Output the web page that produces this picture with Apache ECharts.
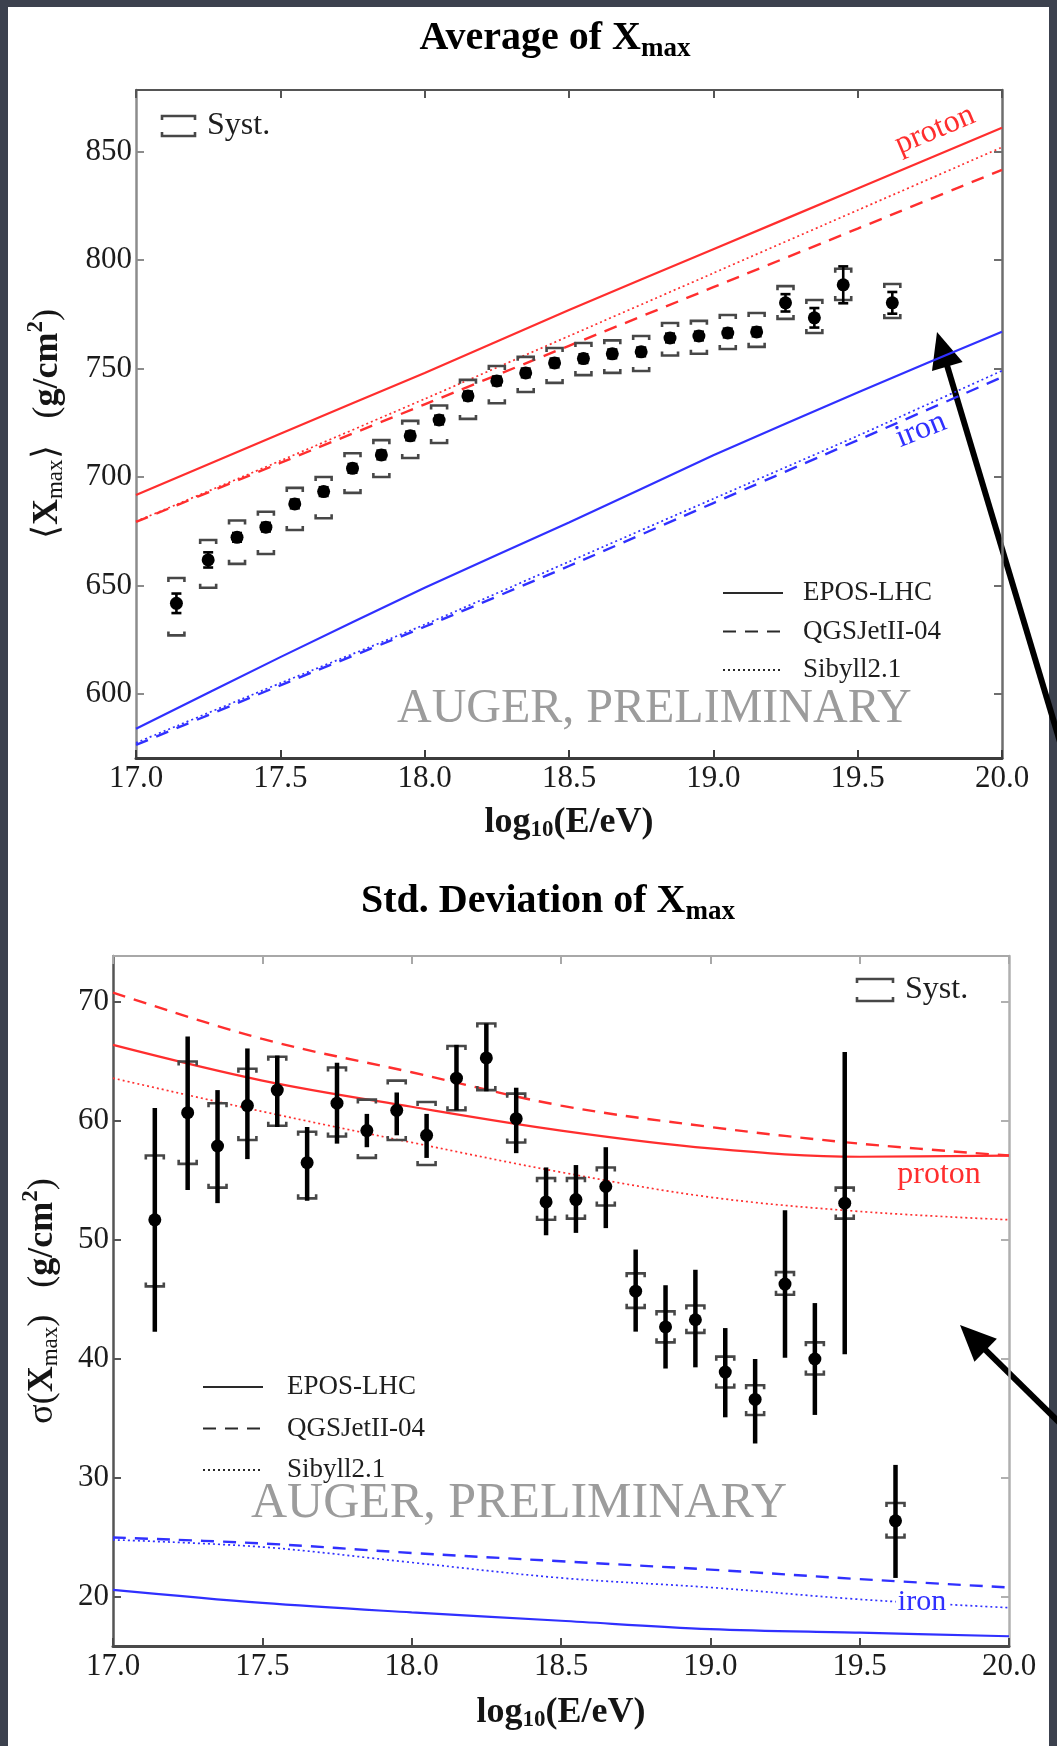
<!DOCTYPE html>
<html>
<head>
<meta charset="utf-8">
<script src="https://cdn.jsdelivr.net/npm/echarts@6/dist/echarts.min.js"></script>
<style>
  html, body { margin: 0; padding: 0; background: #3c414e; }
  #main { width: 1057px; height: 1746px; }
</style>
</head>
<body>
<div id="main"></div>
<script>
// ---- measured data: energy bins (log10 E/eV) ----
const energy = [17.14, 17.25, 17.35, 17.45, 17.55, 17.65, 17.75, 17.85, 17.95, 18.05,
                18.15, 18.25, 18.35, 18.45, 18.55, 18.65, 18.75, 18.85, 18.95, 19.05,
                19.15, 19.25, 19.35, 19.45, 19.62];

// <Xmax> in g/cm^2, statistical error (symmetric), systematic band edges
const avgXmax   = [641.8, 661.8, 672.2, 676.9, 687.6, 693.3, 704.0, 710.2, 719.0, 726.3,
                   737.4, 744.3, 748.0, 752.6, 754.6, 756.8, 757.7, 764.1, 765.0, 766.4,
                   766.9, 780.3, 773.4, 788.6, 780.3];
const avgStat   = [4.5, 3.5, 2, 2, 2, 2, 2, 2, 2, 2,
                   2, 2, 2, 2, 2, 2, 2, 2, 2, 2,
                   2, 4, 4.5, 8.5, 5];
const avgSystHi = [653.5, 671.0, 680.0, 684.0, 695.0, 700.0, 711.0, 717.0, 725.9, 733.0,
                   744.8, 751.2, 755.4, 759.5, 761.8, 763.0, 765.0, 771.0, 772.0, 774.7,
                   775.6, 788.0, 781.6, 796.0, 789.0];
const avgSystLo = [627.0, 649.0, 660.0, 664.5, 675.6, 681.0, 692.7, 700.0, 708.8, 715.7,
                   726.8, 734.0, 739.2, 743.4, 747.0, 748.0, 748.9, 756.0, 756.8, 759.0,
                   760.0, 772.9, 766.4, 781.6, 773.3];

// sigma(Xmax) in g/cm^2 with statistical and systematic limits
const sigXmax   = [51.7, 60.7, 57.9, 61.3, 62.6, 56.5, 61.5, 59.2, 60.9, 58.8,
                   63.6, 65.3, 60.2, 53.2, 53.4, 54.5, 45.7, 42.7, 43.3, 38.9,
                   36.6, 46.3, 40.0, 53.1, 26.4];
const sigStatHi = [61.1, 67.1, 62.6, 66.1, 65.5, 59.5, 64.9, 60.6, 62.4, 60.6,
                   66.4, 68.2, 62.8, 56.1, 56.3, 57.8, 49.2, 46.2, 47.5, 42.6,
                   40.0, 52.5, 44.7, 65.8, 31.1];
const sigStatLo = [42.3, 54.2, 53.1, 56.8, 59.5, 53.3, 58.1, 57.8, 58.8, 56.9,
                   60.9, 62.5, 57.3, 50.4, 50.6, 51.0, 42.3, 39.2, 39.3, 35.1,
                   32.9, 40.1, 35.3, 40.4, 21.6];
const sigSystHi = [57.1, 65.0, 61.5, 64.4, 65.4, 59.1, 64.5, 61.8, 63.4, 61.6,
                   66.3, 68.2, 62.3, 55.2, 55.2, 56.1, 47.2, 44.0, 44.5, 40.2,
                   37.8, 47.3, 41.4, 54.4, 27.9];
const sigSystLo = [46.1, 56.4, 54.4, 58.4, 59.6, 53.5, 58.7, 56.9, 58.4, 56.3,
                   60.9, 62.6, 58.2, 51.7, 51.8, 52.9, 44.3, 41.4, 42.2, 37.6,
                   35.3, 45.4, 38.7, 51.8, 25.0];

// ---- hadronic interaction model predictions ----
const modelEnergy = [17.0, 17.5, 18.0, 18.5, 19.0, 19.5, 20.0];
const modelNames = ['EPOS-LHC', 'QGSJetII-04', 'Sibyll2.1'];

const avgProton = {
  'EPOS-LHC':    [691.7, 720.0, 748.0, 777.0, 805.0, 833.0, 861.0],
  'QGSJetII-04': [679.3, 706.5, 733.5, 760.5, 787.5, 814.5, 841.6],
  'Sibyll2.1':   [679.5, 707.5, 736.0, 765.0, 794.0, 823.0, 852.0]
};
const avgIron = {
  'EPOS-LHC':    [584.0, 617.0, 649.0, 679.0, 710.0, 739.0, 767.0],
  'QGSJetII-04': [576.5, 604.0, 631.0, 659.0, 688.0, 717.0, 746.0],
  'Sibyll2.1':   [577.5, 605.0, 632.0, 661.0, 690.0, 719.0, 749.0]
};
const sigProton = {
  'EPOS-LHC':    [66.4, 63.4, 61.2, 59.2, 57.7, 57.0, 57.1],
  'QGSJetII-04': [70.8, 66.9, 64.1, 61.3, 59.5, 58.1, 57.1],
  'Sibyll2.1':   [63.6, 60.8, 58.2, 55.7, 53.6, 52.4, 51.7]
};
const sigIron = {
  'EPOS-LHC':    [20.6, 19.5, 18.7, 18.0, 17.3, 17.0, 16.7],
  'QGSJetII-04': [25.0, 24.5, 23.7, 23.0, 22.3, 21.5, 20.8],
  'Sibyll2.1':   [24.8, 24.2, 22.9, 21.6, 20.8, 19.8, 19.1]
};

// ---- axis ticks ----
const xTicks = [17.0, 17.5, 18.0, 18.5, 19.0, 19.5, 20.0];
const avgTicks = [600, 650, 700, 750, 800, 850];
const sigTicks = [20, 30, 40, 50, 60, 70];

// ---------------------------------------------------------------
const serif = '"Liberation Serif", "Times New Roman", serif';
const RED = '#ff2e2e';
const BLUE = '#3030ff';
const INK = '#151515';

const lineStyles = {
  'EPOS-LHC':    { type: 'solid', width: 2.2 },
  'QGSJetII-04': { type: [13, 9], width: 2.4 },
  'Sibyll2.1':   { type: [2, 3], width: 1.7 }
};

function modelSeries(name, values, color, gi, smooth) {
  return {
    type: 'line', name: name, xAxisIndex: gi * 2, yAxisIndex: gi * 2,
    data: modelEnergy.map((e, i) => [e, values[i]]),
    symbol: 'none', smooth: smooth, silent: true, z: 2,
    lineStyle: Object.assign({ color: color }, lineStyles[name]),
    itemStyle: { color: color }
  };
}

function bracketRenderer(halfW, leg, width) {
  return function (params, api) {
    const x = api.value(0);
    const lo = api.coord([x, api.value(1)]);
    const hi = api.coord([x, api.value(2)]);
    const st = { stroke: '#474747', lineWidth: width, fill: null };
    return {
      type: 'group',
      children: [
        { type: 'polyline', shape: { points: [[hi[0] - halfW, hi[1] + leg], [hi[0] - halfW, hi[1]], [hi[0] + halfW, hi[1]], [hi[0] + halfW, hi[1] + leg]] }, style: st },
        { type: 'polyline', shape: { points: [[lo[0] - halfW, lo[1] - leg], [lo[0] - halfW, lo[1]], [lo[0] + halfW, lo[1]], [lo[0] + halfW, lo[1] - leg]] }, style: st }
      ]
    };
  };
}

function statRenderer(cap, width) {
  return function (params, api) {
    const x = api.value(0);
    const lo = api.coord([x, api.value(1)]);
    const hi = api.coord([x, api.value(2)]);
    const st = { stroke: '#000', lineWidth: width };
    const kids = [{ type: 'line', shape: { x1: hi[0], y1: hi[1], x2: lo[0], y2: lo[1] }, style: st }];
    if (cap > 0) {
      kids.push({ type: 'line', shape: { x1: hi[0] - cap, y1: hi[1], x2: hi[0] + cap, y2: hi[1] }, style: st });
      kids.push({ type: 'line', shape: { x1: lo[0] - cap, y1: lo[1], x2: lo[0] + cap, y2: lo[1] }, style: st });
    }
    return { type: 'group', children: kids };
  };
}

const tickFont = { fontFamily: serif, fontSize: 31, color: '#1c1c1c' };

const nameRich = {
  n: { fontFamily: serif, fontSize: 36, color: INK },
  b: { fontFamily: serif, fontSize: 36, fontWeight: 'bold', color: INK },
  s: { fontFamily: serif, fontSize: 23, color: INK, padding: [16, 0, 0, 0] },
  sb: { fontFamily: serif, fontSize: 23, fontWeight: 'bold', color: INK, padding: [16, 0, 0, 0] },
  p: { fontFamily: serif, fontSize: 23, fontWeight: 'bold', color: INK, padding: [0, 0, 22, 0] }
};
const xName = '{b|log}{sb|10}{b|(E/eV)}';

function xAxes(gi, gapName, colBottom, colTop) {
  return [
    {
      gridIndex: gi, type: 'value', min: 17, max: 20, interval: 0.5, position: 'bottom',
      axisLine: { show: true, onZero: false, lineStyle: { color: colBottom, width: 3 } },
      axisTick: { show: true, inside: true, length: 8, lineStyle: { color: colBottom, width: 2 } },
      axisLabel: Object.assign({ margin: 5, formatter: v => v.toFixed(1) }, tickFont),
      splitLine: { show: false },
      name: xName, nameLocation: 'middle', nameGap: gapName,
      nameTextStyle: { rich: nameRich }
    },
    {
      gridIndex: gi, type: 'value', min: 17, max: 20, interval: 0.5, position: 'top',
      axisLine: { show: true, onZero: false, lineStyle: { color: colTop, width: 2 } },
      axisTick: { show: true, inside: true, length: 8, lineStyle: { color: colTop, width: 2 } },
      axisLabel: { show: false }, splitLine: { show: false }
    }
  ];
}

function yAxes(gi, min, max, ticks, name, gapName, colLeft, colRight) {
  return [
    {
      gridIndex: gi, type: 'value', min: min, max: max, position: 'left',
      axisLine: { show: true, onZero: false, lineStyle: { color: colLeft, width: 2.5 } },
      axisTick: { show: true, inside: true, length: 8, customValues: ticks, lineStyle: { color: colLeft, width: 2 } },
      axisLabel: Object.assign({ margin: 4, customValues: ticks }, tickFont),
      splitLine: { show: false },
      name: name, nameLocation: 'middle', nameRotate: 90, nameGap: gapName,
      nameTextStyle: { rich: nameRich }
    },
    {
      gridIndex: gi, type: 'value', min: min, max: max, position: 'right',
      axisLine: { show: true, onZero: false, lineStyle: { color: colRight, width: 2.5 } },
      axisTick: { show: true, inside: true, length: 8, customValues: ticks, lineStyle: { color: colRight, width: 2 } },
      axisLabel: { show: false }, splitLine: { show: false }
    }
  ];
}

const series = [];
modelNames.forEach(n => {
  series.push(modelSeries(n, avgProton[n], RED, 0, 0.2));
  series.push(modelSeries(n, avgIron[n], BLUE, 0, 0.2));
  series.push(modelSeries(n, sigProton[n], RED, 1, 0.35));
  series.push(modelSeries(n, sigIron[n], BLUE, 1, 0.35));
});

// average panel: systematic brackets, statistical bars, points
series.push({
  type: 'custom', name: 'Syst.', xAxisIndex: 0, yAxisIndex: 0, silent: true, z: 3,
  encode: { x: 0, y: [1, 2] },
  data: energy.map((e, i) => [e, avgSystLo[i], avgSystHi[i]]),
  renderItem: bracketRenderer(8, 4, 2.6)
});
series.push({
  type: 'custom', name: 'stat', xAxisIndex: 0, yAxisIndex: 0, silent: true, z: 4,
  encode: { x: 0, y: [1, 2] },
  data: energy.map((e, i) => [e, avgXmax[i] - avgStat[i], avgXmax[i] + avgStat[i]]),
  renderItem: statRenderer(5, 2.6)
});
series.push({
  type: 'scatter', name: 'Auger', xAxisIndex: 0, yAxisIndex: 0, silent: true, z: 5,
  symbol: 'circle', symbolSize: 13, itemStyle: { color: '#000', opacity: 1 },
  data: energy.map((e, i) => [e, avgXmax[i]])
});

// sigma panel
series.push({
  type: 'custom', name: 'Syst.', xAxisIndex: 2, yAxisIndex: 2, silent: true, z: 3,
  encode: { x: 0, y: [1, 2] },
  data: energy.map((e, i) => [e, sigSystLo[i], sigSystHi[i]]),
  renderItem: bracketRenderer(9, 4, 2.6)
});
series.push({
  type: 'custom', name: 'stat', xAxisIndex: 2, yAxisIndex: 2, silent: true, z: 4,
  encode: { x: 0, y: [1, 2] },
  data: energy.map((e, i) => [e, sigStatLo[i], sigStatHi[i]]),
  renderItem: statRenderer(0, 4.5)
});
series.push({
  type: 'scatter', name: 'Auger', xAxisIndex: 2, yAxisIndex: 2, silent: true, z: 5,
  symbol: 'circle', symbolSize: 13, itemStyle: { color: '#000', opacity: 1 },
  data: energy.map((e, i) => [e, sigXmax[i]])
});

function legendBlock(left, top, gap, pad) {
  return {
    data: modelNames, orient: 'vertical', left: left, top: top, padding: 0,
    itemWidth: 60, itemHeight: 12, itemGap: gap, selectedMode: false,
    lineStyle: { color: '#2a2a2a' },
    itemStyle: { opacity: 0 },
    formatter: n => '{pad| }' + n,
    textStyle: { fontFamily: serif, fontSize: 27, color: '#1e1e1e', lineHeight: 30, rich: { pad: { width: pad } } }
  };
}

function systKey(x, yTop, yBot, w, textX) {
  const st = { stroke: '#474747', lineWidth: 2.6, fill: null };
  return [
    { type: 'polyline', shape: { points: [[x, yTop + 4], [x, yTop], [x + w, yTop], [x + w, yTop + 4]] }, style: st },
    { type: 'polyline', shape: { points: [[x, yBot - 4], [x, yBot], [x + w, yBot], [x + w, yBot - 4]] }, style: st },
    { type: 'text', x: textX, y: (yTop + yBot) / 2, style: { text: 'Syst.', fontFamily: serif, fontSize: 32, fill: '#1e1e1e', verticalAlign: 'middle' } }
  ];
}

function arrow(tip, tail) {
  const dx = tail[0] - tip[0], dy = tail[1] - tip[1];
  const L = Math.hypot(dx, dy), ux = dx / L, uy = dy / L;
  const len = 36, half = 16;
  const bx = tip[0] + ux * len, by = tip[1] + uy * len;
  return {
    type: 'group', z: 100, children: [
      { type: 'line', shape: { x1: bx - ux * 4, y1: by - uy * 4, x2: tail[0], y2: tail[1] }, style: { stroke: '#000', lineWidth: 6 } },
      { type: 'polygon', shape: { points: [tip, [bx + uy * half, by - ux * half], [bx - uy * half, by + ux * half]] }, style: { fill: '#000' } }
    ]
  };
}

const titleRich = {
  b: { fontFamily: serif, fontSize: 40, fontWeight: 'bold', color: INK },
  s: { fontFamily: serif, fontSize: 27, fontWeight: 'bold', color: INK, padding: [20, 0, 0, 0] }
};

const option = {
  backgroundColor: '#3c414e',
  animation: false,
  grid: [
    { left: 136, top: 90, width: 866, height: 668 },
    { left: 113, top: 956, width: 896, height: 690 }
  ],
  xAxis: [].concat(xAxes(0, 45, '#3c3c3c', '#555'), xAxes(1, 47, '#4a4a4a', '#a8a8a8')),
  yAxis: [].concat(
    yAxes(0, 570.5, 878.4, avgTicks, '{n|⟨}{b|X}{s|max}{n|⟩   (}{b|g/cm}{p|2}{n|)}', 66, '#8c8c8c', '#6e6e6e'),
    yAxes(1, 15.88, 73.87, sigTicks, '{n|σ(}{b|X}{s|max}{n|)   (}{b|g/cm}{p|2}{n|)}', 48, '#555', '#b0b0b0')
  ),
  legend: [legendBlock(722, 578, 8.5, 15), legendBlock(202, 1372, 11.5, 19)],
  series: series,
  graphic: [
    { type: 'rect', z: -10, shape: { x: 8, y: 7, width: 1041, height: 1739 }, style: { fill: '#ffffff' } },
    { type: 'text', x: 555, y: 39, style: { text: '{b|Average of X}{s|max}', rich: titleRich, align: 'center', verticalAlign: 'middle' } },
    { type: 'text', x: 548, y: 902, style: { text: '{b|Std. Deviation of X}{s|max}', rich: titleRich, align: 'center', verticalAlign: 'middle' } },
    { type: 'group', children: systKey(162, 116, 136, 33, 207) },
    { type: 'group', children: systKey(857, 979, 1001, 36, 905) },
    { type: 'text', z: 1, x: 397, y: 709, style: { text: 'AUGER, PRELIMINARY', fontFamily: serif, fontSize: 48, fill: '#9c9c9c', verticalAlign: 'middle' } },
    { type: 'text', z: 1, x: 251, y: 1504, style: { text: 'AUGER, PRELIMINARY', fontFamily: serif, fontSize: 50, fill: '#9c9c9c', verticalAlign: 'middle' } },
    { type: 'text', z: 5, x: 935, y: 130, rotation: 0.40, style: { text: 'proton', fontFamily: serif, fontSize: 32, fill: RED, align: 'center', verticalAlign: 'middle' } },
    { type: 'text', z: 5, x: 921, y: 430, rotation: 0.38, style: { text: 'iron', fontFamily: serif, fontSize: 32, fill: BLUE, align: 'center', verticalAlign: 'middle' } },
    { type: 'text', z: 5, x: 939, y: 1175, style: { text: 'proton', fontFamily: serif, fontSize: 32, fill: RED, align: 'center', verticalAlign: 'middle' } },
    { type: 'text', z: 5, x: 922, y: 1602, style: { text: 'iron', fontFamily: serif, fontSize: 30, fill: BLUE, align: 'center', verticalAlign: 'middle', backgroundColor: '#fff', padding: [0, 2, 0, 2] } },
    arrow([937, 332], [1072, 782]),
    arrow([960, 1325], [1070, 1433])
  ]
};

const chart = echarts.init(document.getElementById('main'), null, { renderer: 'canvas' });
chart.setOption(option);
</script>
</body>
</html>
